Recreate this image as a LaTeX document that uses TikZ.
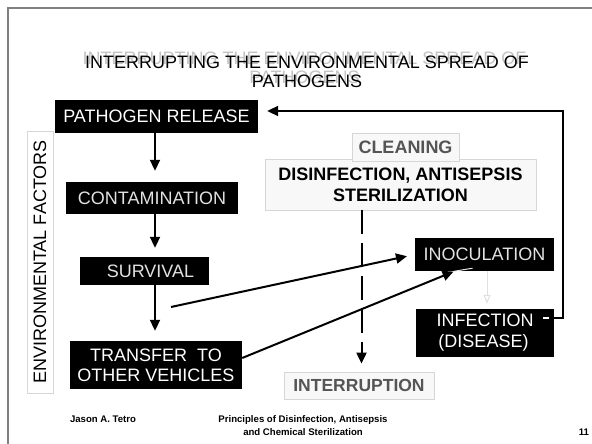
\documentclass[tikz,border=0pt]{standalone}
\usepackage{fontspec}
\setmainfont{Liberation Sans}
\usetikzlibrary{arrows.meta}
\definecolor{lighttxt}{HTML}{E2E2E2}
\definecolor{framegray}{HTML}{808080}
\definecolor{boxline}{HTML}{D6D6D6}
\definecolor{boxfill}{HTML}{F8F8F8}
\definecolor{darktxt}{HTML}{555555}
\definecolor{shadowgray}{HTML}{C4C4C4}
\definecolor{faintgray}{HTML}{E0E0E0}
\begin{document}
\begin{tikzpicture}[x=1pt,y=-1pt,
  bigfont/.style={font=\fontsize{18}{20}\selectfont},
  blackbox/.style={fill=black, inner sep=0pt, align=center, bigfont},
  lightbox/.style={fill=boxfill, draw=boxline, line width=0.8pt, inner sep=0pt, align=center},
  flow/.style={-{Triangle[length=11pt,width=10pt]}, line width=2pt},
  foot/.style={font=\bfseries\fontsize{9.6}{13}\selectfont, align=center, inner sep=0pt}
]
\useasboundingbox (0,0) rectangle (592,444);
\fill[white] (0,0) rectangle (592,444);
\draw[framegray, line width=1.5pt] (592,8) -- (8,8) -- (8,444);

% title
\node[text=shadowgray, align=center, inner sep=0pt, font=\fontsize{18}{19}\selectfont] (titleshadow) at (304.5,68) {INTERRUPTING THE ENVIRONMENTAL SPREAD OF\\PATHOGENS};
\node[text=black, align=center, inner sep=0pt, font=\fontsize{18}{19}\selectfont] (title) at (307,72) {INTERRUPTING THE ENVIRONMENTAL SPREAD OF\\PATHOGENS};

% left column
\node[blackbox, text=white, minimum width=203pt, minimum height=33pt] (rel) at (156.5,116.5) {PATHOGEN RELEASE};
\node[blackbox, text=lighttxt, minimum width=172pt, minimum height=32pt] (cont) at (152,198) {CONTAMINATION};
\node[blackbox, text=lighttxt, minimum width=129pt, minimum height=28pt] (surv) at (144.5,271) {\hspace*{12pt}SURVIVAL};
\node[blackbox, text=white, minimum width=172pt, minimum height=48pt] (trans) at (156,365) {TRANSFER\ \ TO\\OTHER VEHICLES};

\node[lightbox, fill=white, rotate=90, minimum width=262pt, minimum height=26pt, bigfont] (env) at (40,262) {ENVIRONMENTAL FACTORS};

% right column
\node[blackbox, text=lighttxt, minimum width=139pt, minimum height=33pt] (inoc) at (484.5,254.5) {INOCULATION};
\node[blackbox, text=white, minimum width=138pt, minimum height=48pt, font=\fontsize{18}{21}\selectfont] (inf) at (485,333) {INFECTION\\(DISEASE)\hspace*{3pt}};

% interruption
\node[lightbox, minimum width=271pt, minimum height=51pt, font=\bfseries\fontsize{18}{21}\selectfont] (dis) at (400.5,184.5) {DISINFECTION, ANTISEPSIS\\STERILIZATION};
\node[lightbox, text=darktxt, minimum width=107pt, minimum height=28pt, font=\bfseries\fontsize{18}{20}\selectfont] (clean) at (405.5,147) {CLEANING};
\node[lightbox, text=darktxt, minimum width=150pt, minimum height=27pt, font=\bfseries\fontsize{17.5}{20}\selectfont] (intr) at (359,385.5) {INTERRUPTION};

% vertical flow
\coordinate (ax) at (155,0);
\draw[flow, shorten >=11pt] (rel.south -| ax) -- (cont.north -| ax);
\draw[flow, shorten >=9pt] (cont.south -| ax) -- (surv.north -| ax);
\draw[flow, shorten >=10pt] (surv.south -| ax) -- (trans.north -| ax);

% to inoculation
\coordinate (s1) at (171,307);
\draw[flow, shorten >=8pt] (s1) -- (inoc.west);
\draw[faintgray, line width=1pt] ([xshift=-30pt]inoc.south) -- ([xshift=-12pt,yshift=3pt]inoc.south);
\draw[flow, shorten >=1pt] ([yshift=7pt]trans.east) -- ([xshift=-30pt]inoc.south);

\draw[faintgray, line width=1pt, -{Triangle[open,length=9pt,width=7pt]}, shorten >=5pt] ([xshift=2.5pt]inoc.south) -- ([xshift=2pt]inf.north);

% interruption dashed
\draw[line width=2pt, dash pattern=on 24pt off 9pt, -{Triangle[length=11pt,width=10pt]}, shorten >=8pt] ([xshift=-39pt]dis.south) -- ([xshift=2.5pt]intr.north);

% feedback
\coordinate (corner) at (563,111);
\draw[white, line width=2pt] ([xshift=-11pt,yshift=15pt]inf.east) -- ([xshift=-5pt,yshift=15pt]inf.east);
\draw[line width=2pt, -{Triangle[length=11pt,width=10pt]}] ([xshift=-5pt,yshift=15pt]inf.east) -| (corner) -- ([xshift=9pt,yshift=5.5pt]rel.east);

% footer
\node[foot] (auth) at (103,419) {Jason A. Tetro};
\node[foot] (course) at (303,426) {Principles of Disinfection, Antisepsis\\and Chemical Sterilization};
\node[foot] (pg) at (584,432) {11};
\end{tikzpicture}
\end{document}
